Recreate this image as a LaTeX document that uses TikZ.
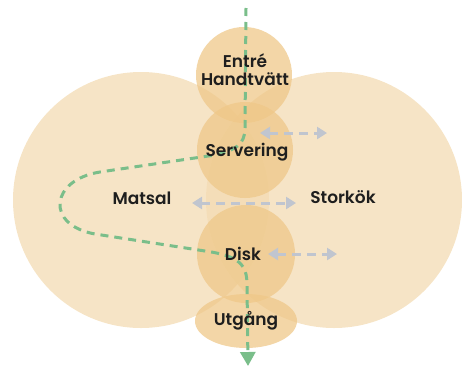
\documentclass[tikz,border=0pt]{standalone}
\usepackage{fontspec}
\setmainfont{Poppins}[BoldFont={Poppins SemiBold}]
\usetikzlibrary{arrows.meta}
\definecolor{zonetan}{RGB}{243,219,179}
\definecolor{roomtan}{RGB}{239,200,137}
\definecolor{flowgreen}{RGB}{122,190,138}
\definecolor{linkgrey}{RGB}{192,197,207}
\definecolor{ink}{RGB}{30,30,30}
\tikzset{
  zone/.style={fill=zonetan, fill opacity=0.75, draw=none},
  room/.style={fill=roomtan, fill opacity=0.75, draw=none},
  label/.style={text=ink, font=\bfseries\fontsize{17}{20}\selectfont, align=center, inner sep=0pt},
  flow/.style={draw=flowgreen, line width=3pt, dash pattern=on 8pt off 6pt,
    -{Triangle[length=14pt,width=15pt]}},
  link/.style={draw=linkgrey, line width=3pt, dash pattern=on 9pt off 6pt,
    {Triangle[length=10pt,width=12pt]}-{Triangle[length=10pt,width=12pt]}}
}
\begin{document}
\begin{tikzpicture}[x=1pt, y=-1pt]
\useasboundingbox (0,0) rectangle (462,367);

% large zones
\fill[zone] (141,200) circle (128);
\fill[zone] (334,200) circle (128);

% rooms along the central axis
\fill[room] (244,75) circle (48);
\fill[room] (245,150) circle (48);
\fill[room] (246,254) circle (49);
\fill[room] (246,321) ellipse [x radius=51, y radius=27];

% named anchor points
\coordinate (start) at (246,8);
\coordinate (end) at (248,366);
\coordinate (s1) at (260,133);
\coordinate (s2) at (327,133);
\coordinate (m1) at (192,203);
\coordinate (m2) at (296,203);
\coordinate (d1) at (268,254);
\coordinate (d2) at (337,254);

% walking route
\draw[flow] (start) -- (245,128)
  .. controls (245,145) and (235,150) .. (215,155)
  -- (100,172)
  .. controls (50,180) and (45,225) .. (95,234)
  -- (205,251)
  .. controls (240,256) and (247,265) .. (247,285)
  -- (end);

% two-way connections
\draw[link] (s1) -- (s2);
\draw[link] (m1) -- (m2);
\draw[link] (d1) -- (d2);

% labels
\node[label] (entre) at (245,70) {Entré\\[-2pt]Handtvätt};
\node[label] (serv) at (247,152) {Servering};
\node[label] (matsal) at (142,198) {Matsal};
\node[label] (stork) at (343,197) {Storkök};
\node[label] (disk) at (243,254) {Disk};
\node[label] (utg) at (246,321) {Utgång};
\end{tikzpicture}
\end{document}
